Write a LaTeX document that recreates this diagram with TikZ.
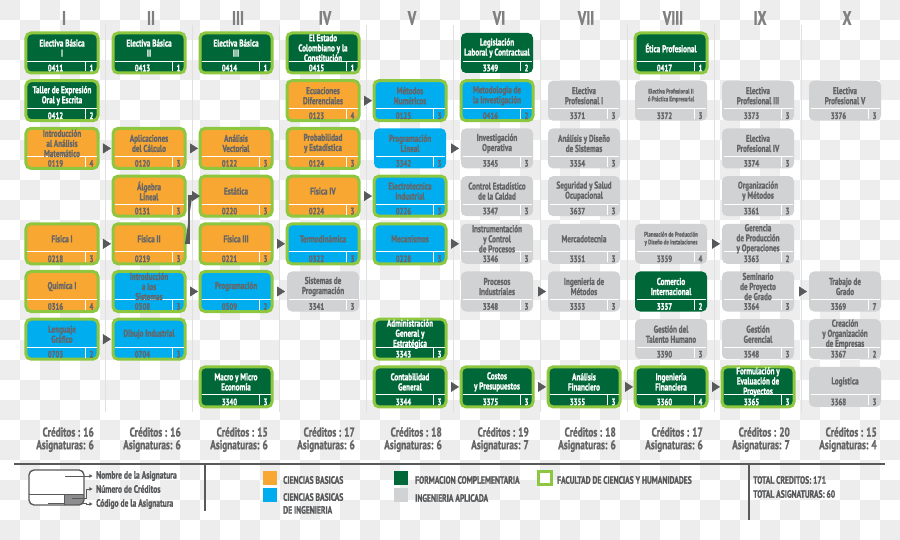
\documentclass[tikz,border=0pt]{standalone}
\usepackage{fontspec}
\setmainfont{PT Sans}[FakeStretch=0.72, BoldFeatures={FakeBold=1.3}]
\usetikzlibrary{arrows.meta,calc}

\definecolor{Naranja}{RGB}{248,168,50}
\definecolor{Azul}{RGB}{0,174,239}
\definecolor{VerdeOscuro}{RGB}{0,104,56}
\definecolor{VerdeClaro}{RGB}{141,198,63}
\definecolor{GrisCaja}{RGB}{209,210,212}
\definecolor{GrisTexto}{RGB}{102,102,104}
\definecolor{GrisOscuro}{RGB}{88,89,91}
\definecolor{GrisMedio}{RGB}{140,140,142}
\definecolor{GrisNumero}{RGB}{128,128,130}
\definecolor{GrisFondo}{RGB}{237,237,237}
\definecolor{GrisLinea}{RGB}{224,224,224}

\newcommand{\chica}{\bfseries\fontsize{5.8}{6.6}\selectfont}

% [opciones titulo]{nombre}{columna}{fila}{tipo}{titulo}{codigo}{creditos}
\newcommand{\asignatura}[8][]{%
	\node[caja, #5] (#2) at ({62+87*#3}, {53+47.7*#4}) {};
	\draw[divisor] ($(#2.south west)+(0,-12)$) -- ($(#2.south east)+(0,-12)$);
	\draw[divisor, shorten <=0pt] ($(#2.south east)+(-13,-12)$) -- ($(#2.south east)+(-13,0)$);
	\node[#5, titulo, #1] (#2-t) at ({62+87*#3}, {48+47.7*#4}) {#6};
	\node[#5, dato] (#2-c) at ({55.5+87*#3}, {68+47.7*#4}) {#7};
	\node[#5, dato] (#2-k) at ({91.5+87*#3}, {68+47.7*#4}) {#8};
}

\begin{document}
\begin{tikzpicture}[x=0.03cm, y=-0.03cm,
		caja/.style={rectangle, rounded corners=0.15cm, minimum width=2.16cm, minimum height=1.2cm, inner sep=0pt, outer sep=0pt},
		cb/.style={fill=Naranja, text=GrisTexto},
		cbi/.style={fill=Azul, text=GrisTexto},
		fc/.style={fill=VerdeOscuro, text=white},
		ia/.style={fill=GrisCaja, text=GrisTexto},
		fch/.style={draw=VerdeClaro, line width=0.09cm},
		divisor/.style={draw=white, line width=0.8pt, shorten <=0.045cm, shorten >=0.045cm},
		titulo/.style={fill=none, draw=none, inner sep=0pt, align=center, font=\bfseries\fontsize{8.5}{8.6}\selectfont},
		dato/.style={fill=none, draw=none, inner sep=0pt, font=\bfseries\fontsize{8}{8}\selectfont},
		flecha/.style={-{Triangle[length=0.24cm, width=0.3cm]}, draw=GrisOscuro, fill=GrisOscuro, line width=0.4pt, shorten <=0.15cm, shorten >=0.06cm},
		conector/.style={-{Triangle[length=0.24cm, width=0.3cm]}, draw=GrisOscuro, fill=GrisOscuro, line width=0.04cm},
		numeral/.style={text=GrisNumero, font=\bfseries\fontsize{16.5}{16.5}\selectfont},
		resumen/.style={text=GrisTexto, inner sep=0pt, anchor=east, font=\bfseries\fontsize{11}{11}\selectfont},
		leyenda/.style={text=GrisOscuro, inner sep=0pt, anchor=west, font=\bfseries\fontsize{9}{9}\selectfont},
		muestra/.style={rectangle, minimum size=0.42cm, inner sep=0pt},
		puntero/.style={draw=GrisOscuro, line width=0.03cm, -{Triangle[length=0.1cm, width=0.1cm]}, shorten >=0.1cm},
		separador/.style={draw=GrisLinea, line width=0.6pt}]
	
	\useasboundingbox (0,0) rectangle (900,540);
	
	% Fondo
	\foreach \i in {0,...,44}{
		\foreach \j in {0,...,26}{
			\pgfmathtruncatemacro{\suma}{\i+\j}
			\ifodd\suma\relax\else\fill[GrisFondo] (20*\i,20*\j) rectangle ++(20,20);\fi
		}
	}
	
	% Separadores
	\foreach \ncol in {0,...,8}
		\draw[separador] ({105.5+87*\ncol},25) -- ({105.5+87*\ncol},412);
	
	% Semestres
	\foreach \n [count=\ncol from 0] in {I,II,III,IV,V,VI,VII,VIII,IX,X}
		\node[numeral] (sem\ncol) at ({64+87*\ncol},18) {\n};
	
	% Columna I
	\asignatura{eb1}{0}{0}{fc,fch}{Electiva Básica\\I}{0411}{1}
	\asignatura{taller}{0}{1}{fc,fch}{Taller de Expresión\\Oral y Escrita}{0412}{2}
	\asignatura{intro}{0}{2}{cb,fch}{Introducción\\al Análisis\\Matemático}{0119}{4}
	\asignatura{fis1}{0}{4}{cb,fch}{Física I}{0218}{3}
	\asignatura{qui1}{0}{5}{cb,fch}{Química I}{0316}{4}
	\asignatura{lengua}{0}{6}{cbi,fch}{Lenguaje\\Gráfico}{0703}{2}
	
	% Columna II
	\asignatura{eb2}{1}{0}{fc,fch}{Electiva Básica\\II}{0413}{1}
	\asignatura{aplic}{1}{2}{cb,fch}{Aplicaciones\\del Cálculo}{0120}{3}
	\asignatura{alg}{1}{3}{cb,fch}{Álgebra\\Lineal}{0131}{3}
	\asignatura{fis2}{1}{4}{cb,fch}{Física II}{0219}{3}
	\asignatura{isist}{1}{5}{cbi,fch}{Introducción\\a los\\Sistemas}{0508}{3}
	\asignatura{dibujo}{1}{6}{cbi,fch}{Dibujo Industrial}{0704}{3}
	
	% Columna III
	\asignatura{eb3}{2}{0}{fc,fch}{Electiva Básica\\III}{0414}{1}
	\asignatura{vect}{2}{2}{cb,fch}{Análisis\\Vectorial}{0122}{3}
	\asignatura{estat}{2}{3}{cb,fch}{Estática}{0220}{3}
	\asignatura{fis3}{2}{4}{cb,fch}{Física III}{0221}{3}
	\asignatura{prog}{2}{5}{cbi,fch}{Programación}{0509}{2}
	\asignatura{macro}{2}{7}{fc,fch}{Macro y Micro\\Economía}{3340}{3}
	
	% Columna IV
	\asignatura{estado}{3}{0}{fc,fch}{El Estado\\Colombiano y la\\Constitución}{0415}{1}
	\asignatura{ecdif}{3}{1}{cb,fch}{Ecuaciones\\Diferenciales}{0123}{4}
	\asignatura{proba}{3}{2}{cb,fch}{Probabilidad\\y Estadística}{0124}{3}
	\asignatura{fis4}{3}{3}{cb,fch}{Física IV}{0224}{3}
	\asignatura{termo}{3}{4}{cbi,fch}{Termodinámica}{0322}{3}
	\asignatura{sisprog}{3}{5}{ia}{Sistemas de\\Programación}{3341}{3}
	
	% Columna V
	\asignatura{metnum}{4}{1}{cbi,fch}{Métodos\\Numéricos}{0125}{3}
	\asignatura{proglin}{4}{2}{cbi}{Programación\\Lineal}{3342}{3}
	\asignatura{electro}{4}{3}{cbi,fch}{Electrotecnica\\Industrial}{0226}{3}
	\asignatura{mecan}{4}{4}{cbi,fch}{Mecanismos}{0228}{3}
	\asignatura{admin}{4}{6}{fc,fch}{Administración\\General y\\Estratégica}{3343}{3}
	\asignatura{conta}{4}{7}{fc,fch}{Contabilidad\\General}{3344}{3}
	
	% Columna VI
	\asignatura{legis}{5}{0}{fc}{Legislación\\Laboral y Contractual}{3349}{2}
	\asignatura{metinv}{5}{1}{cbi,fch}{Metodología de\\la Investigación}{0416}{2}
	\asignatura{invop}{5}{2}{ia}{Investigación\\Operativa}{3345}{3}
	\asignatura{control}{5}{3}{ia}{Control Estadístico\\de la Caldad}{3347}{3}
	\asignatura{instru}{5}{4}{ia}{Instrumentación\\y Control\\de Procesos}{3346}{3}
	\asignatura{procind}{5}{5}{ia}{Procesos\\Industriales}{3348}{3}
	\asignatura{costos}{5}{7}{fc,fch}{Costos\\y Presupuestos}{3375}{3}
	
	% Columna VII
	\asignatura{ep1}{6}{1}{ia}{Electiva\\Profesional I}{3371}{3}
	\asignatura{ads}{6}{2}{ia}{Análisis y Diseño\\de Sistemas}{3354}{3}
	\asignatura{seg}{6}{3}{ia}{Seguridad y Salud\\Ocupacional}{3637}{3}
	\asignatura{merca}{6}{4}{ia}{Mercadotecnia}{3351}{3}
	\asignatura{ingmet}{6}{5}{ia}{Ingeniería de\\Métodos}{3353}{3}
	\asignatura{anfin}{6}{7}{fc,fch}{Análisis\\Financiero}{3355}{3}
	
	% Columna VIII
	\asignatura{etica}{7}{0}{fc,fch}{Ética Profesional}{0417}{1}
	\asignatura[font=\chica]{ep2}{7}{1}{ia}{Electiva Profesional II\\ó Práctica Empresarial}{3372}{3}
	\asignatura[font=\chica]{planea}{7}{4}{ia}{Planeación de Producción\\y Diseño de Instalaciones}{3359}{4}
	\asignatura{comercio}{7}{5}{fc}{Comercio\\Internacional}{3357}{2}
	\asignatura{talento}{7}{6}{ia}{Gestión del\\Talento Humano}{3390}{3}
	\asignatura{ingfin}{7}{7}{fc,fch}{Ingeniería\\Financiera}{3360}{4}
	
	% Columna IX
	\asignatura{ep3}{8}{1}{ia}{Electiva\\Profesional III}{3373}{3}
	\asignatura{ep4}{8}{2}{ia}{Electiva\\Profesional IV}{3374}{3}
	\asignatura{orgmet}{8}{3}{ia}{Organización\\y Métodos}{3361}{3}
	\asignatura{gerencia}{8}{4}{ia}{Gerencia\\de Producción\\y Operaciones}{3363}{2}
	\asignatura{seminario}{8}{5}{ia}{Seminario\\de Proyecto\\de Grado}{3364}{3}
	\asignatura{gestger}{8}{6}{ia}{Gestión\\Gerencial}{3548}{3}
	\asignatura{formul}{8}{7}{fc,fch}{Formulación y\\Evaluación de\\Proyectos}{3365}{3}
	
	% Columna X
	\asignatura{ep5}{9}{1}{ia}{Electiva\\Profesional V}{3376}{3}
	\asignatura{trabajo}{9}{5}{ia}{Trabajo de\\Grado}{3369}{7}
	\asignatura{creacion}{9}{6}{ia}{Creación\\y Organización\\de Empresas}{3367}{2}
	\asignatura{logis}{9}{7}{ia}{Logística}{3368}{3}
	
	% Prerrequisitos
	\foreach \a/\b in {intro/aplic, aplic/vect, fis1/fis2, fis3/termo, isist/prog, prog/sisprog,
		lengua/dibujo, ecdif/metnum, proglin/invop, fis4/electro, mecan/instru, procind/ingmet,
		conta/costos, costos/anfin, anfin/ingfin, ingfin/formul, planea/gerencia, seminario/trabajo}
		\draw[flecha] (\a.east) -- (\b.west);
	\draw[conector] (fis2.east) -- ++(4,0) |- (estat.west);
	
	% Totales por semestre
	\foreach \cre/\asg [count=\ncol from 0] in {16/6,16/6,15/6,17/6,18/6,19/7,18/6,17/6,20/7,15/4}{
		\node[resumen] (cred\ncol) at ({94+87*\ncol},432) {Créditos : \cre};
		\node[resumen] (asig\ncol) at ({94+87*\ncol},446) {Asignaturas: \asg};
	}
	
	% Leyenda
	\draw[GrisOscuro, line width=0.05cm] (14,464) -- (885,464);
	\draw[GrisOscuro, line width=0.04cm] (205,464) -- (205,511);
	\draw[GrisOscuro, line width=0.04cm] (749,464) -- (749,520);
	
	\fill[white, rounded corners=0.15cm] (29,470) rectangle (84,505);
	\coordinate (pNombre) at (65,476);
	\coordinate (pNumero) at (72,498);
	\coordinate (pCodigo) at (48,503);
	\node[leyenda] (lNombre) at (96,476) {Nombre de la Asignatura};
	\node[leyenda] (lNumero) at (96,489) {Número de Créditos};
	\node[leyenda] (lCodigo) at (96,504) {Código de la Asignatura};
	\draw[puntero] (pCodigo) -- (86,503) |- (lCodigo.west);
	\begin{scope}
		\clip[rounded corners=0.15cm] (29,470) rectangle (84,505);
		\fill[GrisMedio] (64,494) rectangle (84,505);
	\end{scope}
	\draw[GrisOscuro, line width=0.03cm] (29,494) -- (84,494);
	\draw[GrisOscuro, line width=0.03cm] (64,494) -- (64,505);
	\draw[GrisOscuro, line width=0.04cm, rounded corners=0.15cm] (29,470) rectangle (84,505);
	\draw[puntero] (pNombre) -- (lNombre.west);
	\draw[puntero] (pNumero) -- (86,498) |- (lNumero.west);
	
	\node[muestra, fill=Naranja] (mCB) at (270,477.5) {};
	\node[muestra, fill=Azul] (mCBI) at (270,495) {};
	\node[muestra, fill=VerdeOscuro] (mFC) at (401,477.5) {};
	\node[muestra, fill=GrisCaja] (mIA) at (401,495) {};
	\node[muestra, fill=white, draw=VerdeClaro, line width=0.08cm, minimum size=0.39cm] (mFCH) at (545,478) {};
	
	\node[leyenda] (tCB) at (283,480) {CIENCIAS BASICAS};
	\node[leyenda, align=left, font=\bfseries\fontsize{9}{11}\selectfont] (tCBI) at (283,503.5) {CIENCIAS BASICAS\\DE INGENIERIA};
	\node[leyenda] (tFC) at (415,480) {FORMACION COMPLEMENTARIA};
	\node[leyenda] (tIA) at (415,498) {INGENIERIA APLICADA};
	\node[leyenda] (tFCH) at (557,480) {FACULTAD DE CIENCIAS Y HUMANIDADES};
	\node[leyenda] (tTC) at (753,480) {TOTAL CREDITOS: 171};
	\node[leyenda] (tTA) at (753,494) {TOTAL ASIGNATURAS: 60};
	
\end{tikzpicture}
\end{document}
